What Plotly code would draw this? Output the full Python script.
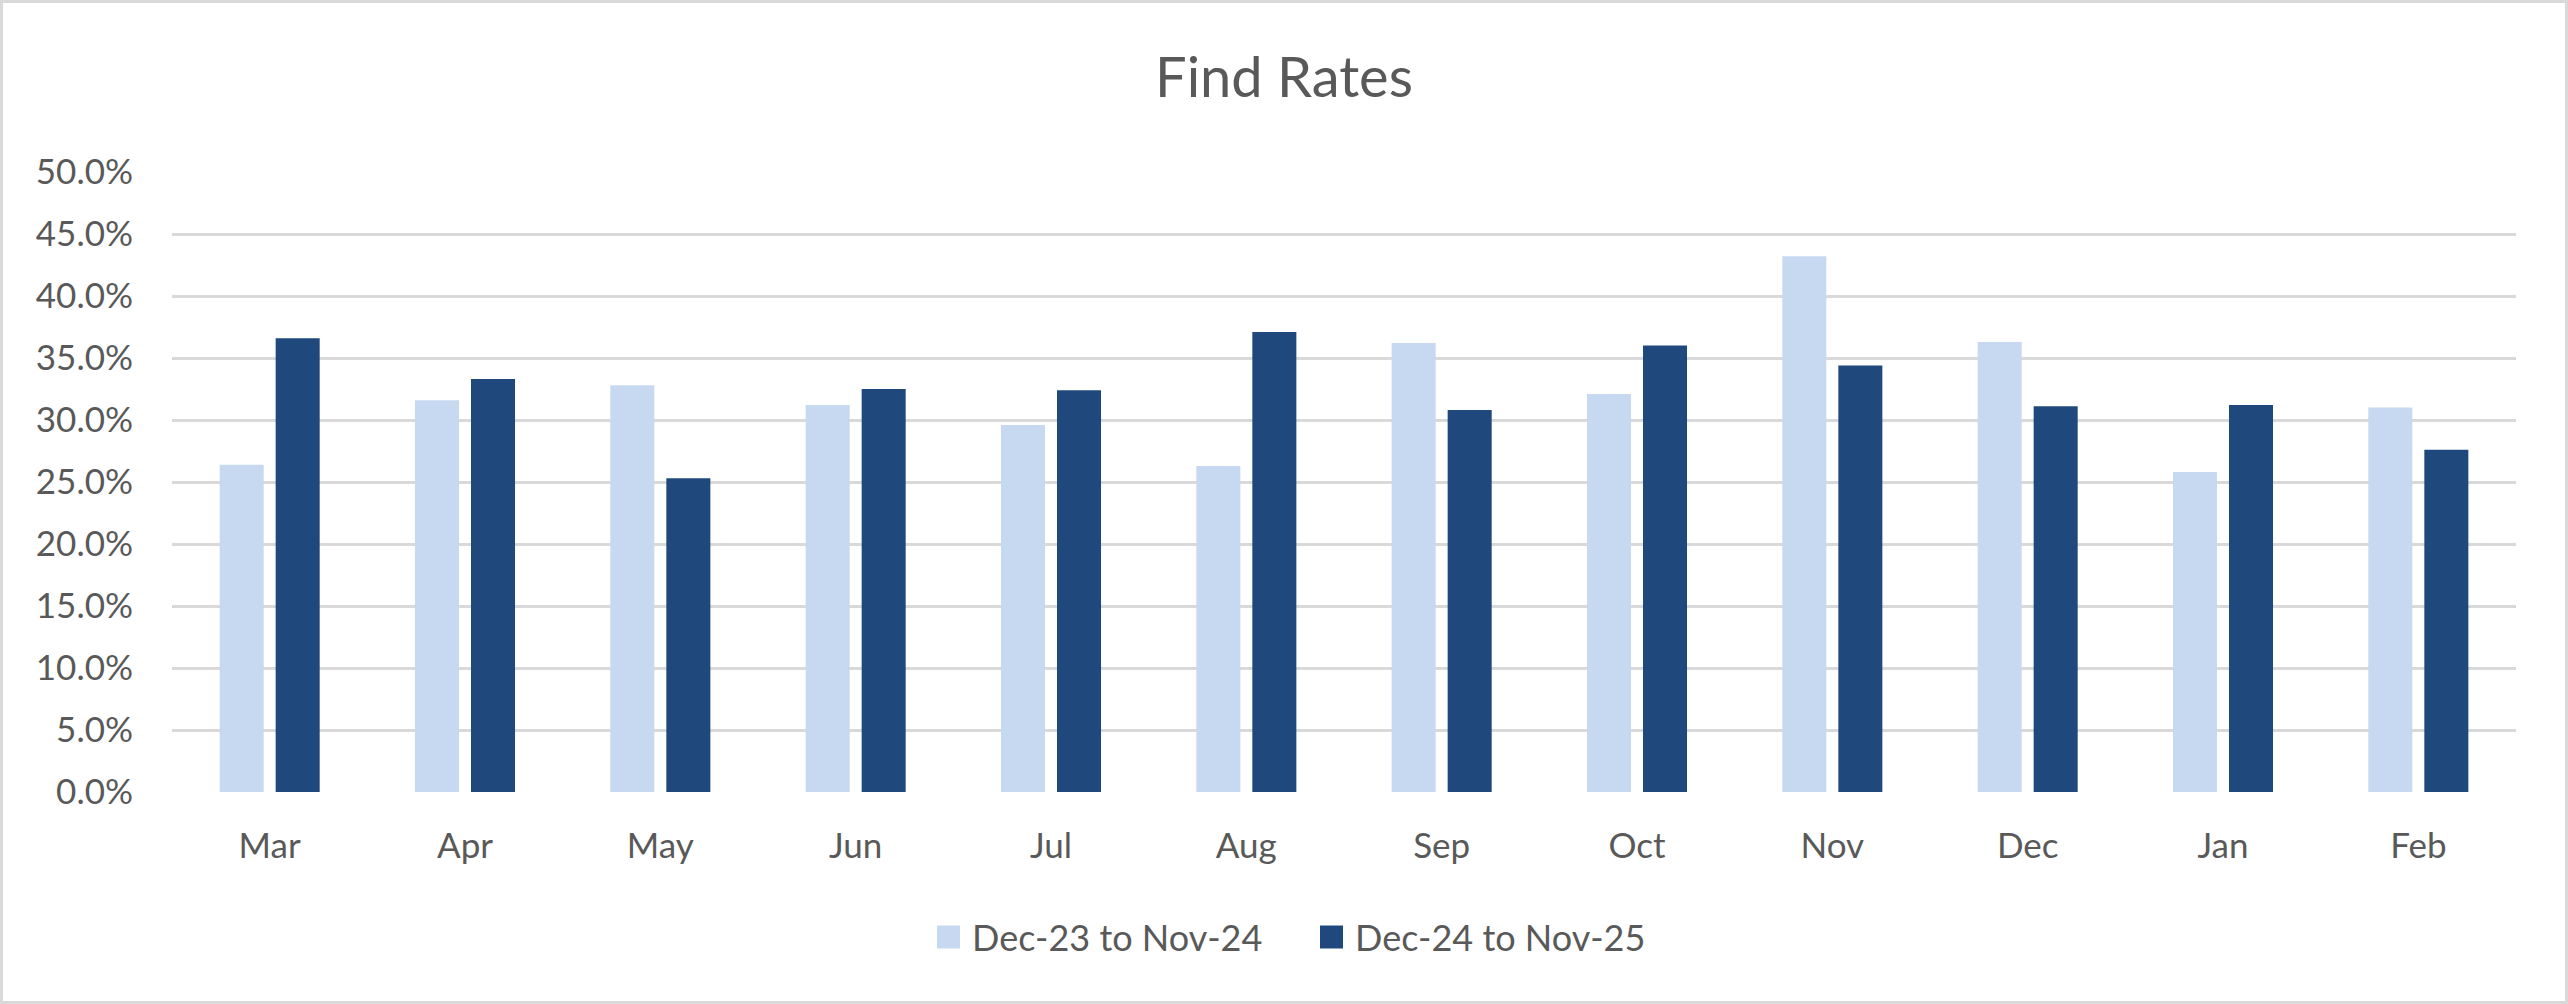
import plotly.graph_objects as go

months = ["Mar", "Apr", "May", "Jun", "Jul", "Aug", "Sep", "Oct", "Nov", "Dec", "Jan", "Feb"]
series_names = ["Dec-23 to Nov-24", "Dec-24 to Nov-25"]
rates_prev = [0.264, 0.316, 0.328, 0.312, 0.296, 0.263, 0.362, 0.321, 0.432, 0.363, 0.258, 0.310]
rates_curr = [0.366, 0.333, 0.253, 0.325, 0.324, 0.371, 0.308, 0.360, 0.344, 0.311, 0.312, 0.276]
y_ticks = [0.0, 0.05, 0.10, 0.15, 0.20, 0.25, 0.30, 0.35, 0.40, 0.45, 0.50]

W, H = 2568, 1004
ML, MR, MT, MB = 172, 52, 172, 212
FONT = "Lato"
TXT = "#595959"
LIGHT = "#C6D9F0"
DARK = "#1F497D"
colors = [LIGHT, DARK]

fig = go.Figure()
for name, vals, col in zip(series_names, [rates_prev, rates_curr], colors):
    fig.add_trace(go.Bar(x=months, y=vals, name=name, showlegend=False,
                         marker=dict(color=col, line=dict(width=0))))

pw = W - ML - MR
ph = H - MT - MB


def px_x(x):
    return (x - ML) / pw


def px_y(y):
    return 1 - (y - MT) / ph


# chart border
fig.add_shape(type="rect", xref="paper", yref="paper",
              x0=px_x(1.5), x1=px_x(W - 1.5), y0=px_y(H - 1.5), y1=px_y(1.5),
              line=dict(color="#D9D9D9", width=3), fillcolor="rgba(0,0,0,0)", layer="below")

# legend (drawn manually to match the square swatches)
legend_y = 937
legend_starts = [937, 1320]
sq = 23
for name, col, x0 in zip(series_names, colors, legend_starts):
    fig.add_shape(type="rect", xref="paper", yref="paper",
                  x0=px_x(x0), x1=px_x(x0 + sq),
                  y0=px_y(legend_y + sq / 2), y1=px_y(legend_y - sq / 2),
                  line=dict(width=0), fillcolor=col)
    fig.add_annotation(xref="paper", yref="paper", x=px_x(x0 + sq + 10), y=px_y(legend_y),
                       xanchor="left", yanchor="middle", text=name, showarrow=False,
                       font=dict(family=FONT, size=36, color=TXT))

fig.update_layout(
    width=W, height=H,
    margin=dict(l=ML, r=MR, t=MT, b=MB, pad=0),
    paper_bgcolor="white", plot_bgcolor="white",
    font=dict(family=FONT, color=TXT, size=35),
    title=dict(text="Find Rates", x=0.5, xanchor="center", xref="container",
               y=1 - 77 / H, yanchor="middle", yref="container",
               font=dict(family=FONT, size=56, color=TXT)),
    barmode="group", bargap=0.4265, bargroupgap=0.214,
    showlegend=False,
    xaxis=dict(showgrid=False, zeroline=False, showline=False, ticks="",
               tickfont=dict(family=FONT, size=35, color=TXT), ticklabelstandoff=30,
               fixedrange=True),
    yaxis=dict(range=[0, 0.5], tickvals=y_ticks, tickformat=".1%",
               showgrid=True, gridcolor="#D9D9D9", gridwidth=2.5,
               zeroline=False, showline=False, ticks="",
               tickfont=dict(family=FONT, size=35, color=TXT), ticklabelstandoff=38,
               fixedrange=True),
)

fig.write_html("out.html")
